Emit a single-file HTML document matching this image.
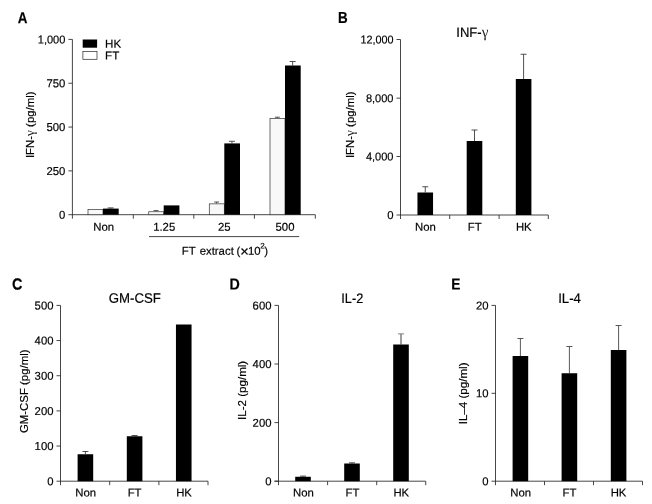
<!DOCTYPE html>
<html lang="en">
<head>
<meta charset="utf-8">
<title>Cytokine production figure</title>
<style>
html,body{margin:0;padding:0;background:#fff;}
svg{display:block;}
text .g{font-family:'Liberation Serif',serif;stroke:none;fill:#222;font-size:116%;}
text{font-family:'Liberation Sans', sans-serif;fill:#000;stroke:#000;stroke-width:0.18px;}
</style>
</head>
<body>
<svg width="652" height="504" viewBox="0 0 652 504">
<rect x="0" y="0" width="652" height="504" fill="#fff"/>
<text transform="translate(17.7 23.2) rotate(0.04) scale(0.84 1)" font-size="16" font-weight="bold">A</text>
<line x1="72.4" y1="39.4" x2="72.4" y2="218.7" stroke="#262626" stroke-width="0.85"/>
<line x1="68.4" y1="214.7" x2="315.3" y2="214.7" stroke="#262626" stroke-width="0.85"/>
<line x1="133.3" y1="214.7" x2="133.3" y2="218.7" stroke="#262626" stroke-width="0.85"/>
<line x1="193.8" y1="214.7" x2="193.8" y2="218.7" stroke="#262626" stroke-width="0.85"/>
<line x1="254.4" y1="214.7" x2="254.4" y2="218.7" stroke="#262626" stroke-width="0.85"/>
<line x1="315.3" y1="214.7" x2="315.3" y2="218.7" stroke="#262626" stroke-width="0.85"/>
<line x1="68.4" y1="39.4" x2="72.4" y2="39.4" stroke="#262626" stroke-width="0.85"/>
<text transform="translate(65.4 43.45) rotate(0.04) scale(0.96 1)" font-size="11.5" text-anchor="end">1,000</text>
<line x1="68.4" y1="83.22" x2="72.4" y2="83.22" stroke="#262626" stroke-width="0.85"/>
<text transform="translate(65.4 87.27) rotate(0.04) scale(0.985 1)" font-size="11.5" text-anchor="end">750</text>
<line x1="68.4" y1="127.05" x2="72.4" y2="127.05" stroke="#262626" stroke-width="0.85"/>
<text transform="translate(65.4 131.1) rotate(0.04) scale(0.985 1)" font-size="11.5" text-anchor="end">500</text>
<line x1="68.4" y1="170.88" x2="72.4" y2="170.88" stroke="#262626" stroke-width="0.85"/>
<text transform="translate(65.4 174.93) rotate(0.04) scale(0.985 1)" font-size="11.5" text-anchor="end">250</text>
<text transform="translate(65.4 218.75) rotate(0.04) scale(0.985 1)" font-size="11.5" text-anchor="end">0</text>
<rect x="82.70" y="39.50" width="14.40" height="8.20" fill="#000"/>
<rect x="82.90" y="51.60" width="14.10" height="7.70" fill="#fff" stroke="#262626" stroke-width="0.7"/>
<text transform="translate(105.1 47.7) rotate(0.04)" font-size="11.6">HK</text>
<text transform="translate(105.1 59.6) rotate(0.04)" font-size="11.6">FT</text>
<line x1="110.65" y1="207.9" x2="110.65" y2="208.6" stroke="#333" stroke-width="0.85"/>
<line x1="107.65" y1="207.9" x2="113.65" y2="207.9" stroke="#333" stroke-width="0.85"/>
<rect x="88.00" y="209.60" width="15.00" height="5.10" fill="#f8f8f8" stroke="#333" stroke-width="0.7"/>
<rect x="103.00" y="208.60" width="15.70" height="6.10" fill="#000"/>
<line x1="156.05" y1="210.6" x2="156.05" y2="211.4" stroke="#333" stroke-width="0.85"/>
<line x1="153.55" y1="210.6" x2="158.55" y2="210.6" stroke="#333" stroke-width="0.85"/>
<rect x="148.70" y="211.75" width="15.00" height="2.95" fill="#f8f8f8" stroke="#333" stroke-width="0.7"/>
<rect x="163.70" y="205.40" width="15.70" height="9.30" fill="#000"/>
<line x1="216.65" y1="202.0" x2="216.65" y2="203.5" stroke="#333" stroke-width="0.85"/>
<line x1="214.15" y1="202.0" x2="219.15" y2="202.0" stroke="#333" stroke-width="0.85"/>
<line x1="231.95" y1="141.3" x2="231.95" y2="143.4" stroke="#333" stroke-width="0.85"/>
<line x1="228.95" y1="141.3" x2="234.95" y2="141.3" stroke="#333" stroke-width="0.85"/>
<rect x="209.30" y="203.85" width="15.00" height="10.85" fill="#f8f8f8" stroke="#333" stroke-width="0.7"/>
<rect x="224.30" y="143.40" width="15.70" height="71.30" fill="#000"/>
<line x1="277.35" y1="117.2" x2="277.35" y2="118" stroke="#333" stroke-width="0.85"/>
<line x1="274.85" y1="117.2" x2="279.85" y2="117.2" stroke="#333" stroke-width="0.85"/>
<line x1="292.65" y1="61.5" x2="292.65" y2="65.5" stroke="#333" stroke-width="0.85"/>
<line x1="289.65" y1="61.5" x2="295.65" y2="61.5" stroke="#333" stroke-width="0.85"/>
<rect x="270.00" y="118.35" width="15.00" height="96.35" fill="#f8f8f8" stroke="#333" stroke-width="0.7"/>
<rect x="285.00" y="65.50" width="15.70" height="149.20" fill="#000"/>
<text transform="translate(103.75 230.7) rotate(0.04)" font-size="11.35" text-anchor="middle">Non</text>
<text transform="translate(164.2 230.7) rotate(0.04)" font-size="11.35" text-anchor="middle">1.25</text>
<text transform="translate(224.3 230.7) rotate(0.04)" font-size="11.35" text-anchor="middle">25</text>
<text transform="translate(285 230.7) rotate(0.04)" font-size="11.35" text-anchor="middle">500</text>
<line x1="149" y1="236.6" x2="299.2" y2="236.6" stroke="#262626" stroke-width="0.85"/>
<text transform="translate(181.7 254.7) rotate(0.04)" font-size="11.4">FT<tspan dx="1.05"> extract</tspan><tspan dx="-0.4"> (</tspan><tspan font-size="14.6" dy="1.5" dx="-0.2">×</tspan><tspan dy="-1.5" dx="-0.7">10</tspan><tspan font-size="8" dy="-6.2" dx="-0.4">2</tspan><tspan dy="6.2" dx="-0.4">)</tspan></text>
<text transform="translate(33.9 124.75) rotate(-90)" font-size="11.4" text-anchor="middle">IFN-<tspan class="g">γ</tspan> (pg/ml)</text>
<text transform="translate(338 23) rotate(0.04) scale(0.84 1)" font-size="16" font-weight="bold">B</text>
<line x1="400.5" y1="39.5" x2="400.5" y2="219.0" stroke="#262626" stroke-width="0.85"/>
<line x1="396.5" y1="215.0" x2="548.3" y2="215.0" stroke="#262626" stroke-width="0.85"/>
<line x1="449.7" y1="215.0" x2="449.7" y2="219.0" stroke="#262626" stroke-width="0.85"/>
<line x1="499.1" y1="215.0" x2="499.1" y2="219.0" stroke="#262626" stroke-width="0.85"/>
<line x1="548.3" y1="215.0" x2="548.3" y2="219.0" stroke="#262626" stroke-width="0.85"/>
<line x1="396.5" y1="39.5" x2="400.5" y2="39.5" stroke="#262626" stroke-width="0.85"/>
<text transform="translate(393.5 43.55) rotate(0.04) scale(0.94 1)" font-size="11.5" text-anchor="end">12,000</text>
<line x1="396.5" y1="98.15" x2="400.5" y2="98.15" stroke="#262626" stroke-width="0.85"/>
<text transform="translate(393.5 102.2) rotate(0.04) scale(0.96 1)" font-size="11.5" text-anchor="end">8,000</text>
<line x1="396.5" y1="156.5" x2="400.5" y2="156.5" stroke="#262626" stroke-width="0.85"/>
<text transform="translate(393.5 160.55) rotate(0.04) scale(0.96 1)" font-size="11.5" text-anchor="end">4,000</text>
<text transform="translate(393.5 219.05) rotate(0.04) scale(0.985 1)" font-size="11.5" text-anchor="end">0</text>
<line x1="425.25" y1="186.75" x2="425.25" y2="192.5" stroke="#333" stroke-width="0.85"/>
<line x1="422.25" y1="186.75" x2="428.25" y2="186.75" stroke="#333" stroke-width="0.85"/>
<rect x="417.45" y="192.50" width="15.60" height="22.50" fill="#000"/>
<line x1="474.5" y1="130" x2="474.5" y2="141" stroke="#333" stroke-width="0.85"/>
<line x1="471.5" y1="130" x2="477.5" y2="130" stroke="#333" stroke-width="0.85"/>
<rect x="466.70" y="141.00" width="15.60" height="74.00" fill="#000"/>
<line x1="523.6" y1="54.25" x2="523.6" y2="79" stroke="#333" stroke-width="0.85"/>
<line x1="520.6" y1="54.25" x2="526.6" y2="54.25" stroke="#333" stroke-width="0.85"/>
<rect x="515.80" y="79.00" width="15.60" height="136.00" fill="#000"/>
<text transform="translate(425.5 230.8) rotate(0.04)" font-size="11.35" text-anchor="middle">Non</text>
<text transform="translate(474.75 230.8) rotate(0.04)" font-size="11.35" text-anchor="middle">FT</text>
<text transform="translate(523.75 230.8) rotate(0.04)" font-size="11.35" text-anchor="middle">HK</text>
<text transform="translate(456.3 37.1) rotate(0.04) scale(0.96 1)" font-size="13.6">INF-<tspan class="g">γ</tspan></text>
<text transform="translate(354.3 124.75) rotate(-90)" font-size="11.4" text-anchor="middle">IFN-<tspan class="g">γ</tspan> (pg/ml)</text>
<text transform="translate(12.0 289.45) rotate(0.04) scale(0.9 1)" font-size="16" font-weight="bold">C</text>
<line x1="60.5" y1="305.4" x2="60.5" y2="485.2" stroke="#262626" stroke-width="0.85"/>
<line x1="56.5" y1="481.2" x2="208" y2="481.2" stroke="#262626" stroke-width="0.85"/>
<line x1="109.7" y1="481.2" x2="109.7" y2="485.2" stroke="#262626" stroke-width="0.85"/>
<line x1="158.9" y1="481.2" x2="158.9" y2="485.2" stroke="#262626" stroke-width="0.85"/>
<line x1="208" y1="481.2" x2="208" y2="485.2" stroke="#262626" stroke-width="0.85"/>
<line x1="56.5" y1="305.4" x2="60.5" y2="305.4" stroke="#262626" stroke-width="0.85"/>
<text transform="translate(53.5 309.45) rotate(0.04) scale(0.985 1)" font-size="11.5" text-anchor="end">500</text>
<line x1="56.5" y1="340.56" x2="60.5" y2="340.56" stroke="#262626" stroke-width="0.85"/>
<text transform="translate(53.5 344.61) rotate(0.04) scale(0.985 1)" font-size="11.5" text-anchor="end">400</text>
<line x1="56.5" y1="375.72" x2="60.5" y2="375.72" stroke="#262626" stroke-width="0.85"/>
<text transform="translate(53.5 379.77) rotate(0.04) scale(0.985 1)" font-size="11.5" text-anchor="end">300</text>
<line x1="56.5" y1="410.88" x2="60.5" y2="410.88" stroke="#262626" stroke-width="0.85"/>
<text transform="translate(53.5 414.93) rotate(0.04) scale(0.985 1)" font-size="11.5" text-anchor="end">200</text>
<line x1="56.5" y1="446.04" x2="60.5" y2="446.04" stroke="#262626" stroke-width="0.85"/>
<text transform="translate(53.5 450.09) rotate(0.04) scale(0.985 1)" font-size="11.5" text-anchor="end">100</text>
<text transform="translate(53.5 485.25) rotate(0.04) scale(0.985 1)" font-size="11.5" text-anchor="end">0</text>
<line x1="85.4" y1="451.5" x2="85.4" y2="454.25" stroke="#333" stroke-width="0.85"/>
<line x1="82.4" y1="451.5" x2="88.4" y2="451.5" stroke="#333" stroke-width="0.85"/>
<rect x="77.60" y="454.25" width="15.60" height="26.95" fill="#000"/>
<line x1="134.6" y1="435.5" x2="134.6" y2="436.25" stroke="#333" stroke-width="0.85"/>
<line x1="131.6" y1="435.5" x2="137.6" y2="435.5" stroke="#333" stroke-width="0.85"/>
<rect x="126.80" y="436.25" width="15.60" height="44.95" fill="#000"/>
<rect x="175.95" y="324.50" width="15.60" height="156.70" fill="#000"/>
<text transform="translate(85.6 496.6) rotate(0.04)" font-size="11.35" text-anchor="middle">Non</text>
<text transform="translate(134.6 496.6) rotate(0.04)" font-size="11.35" text-anchor="middle">FT</text>
<text transform="translate(184 496.6) rotate(0.04)" font-size="11.35" text-anchor="middle">HK</text>
<text transform="translate(108.7 302.75) rotate(0.04) scale(0.965 1)" font-size="13.7">GM-CSF</text>
<text transform="translate(28 391.3) rotate(-90)" font-size="11.4" text-anchor="middle">GM-CSF (pg/ml)</text>
<text transform="translate(229.6 289.45) rotate(0.04) scale(0.89 1)" font-size="16" font-weight="bold">D</text>
<line x1="278.5" y1="305.4" x2="278.5" y2="485.2" stroke="#262626" stroke-width="0.85"/>
<line x1="274.5" y1="481.2" x2="425.75" y2="481.2" stroke="#262626" stroke-width="0.85"/>
<line x1="327.6" y1="481.2" x2="327.6" y2="485.2" stroke="#262626" stroke-width="0.85"/>
<line x1="376.7" y1="481.2" x2="376.7" y2="485.2" stroke="#262626" stroke-width="0.85"/>
<line x1="425.75" y1="481.2" x2="425.75" y2="485.2" stroke="#262626" stroke-width="0.85"/>
<line x1="274.5" y1="305.4" x2="278.5" y2="305.4" stroke="#262626" stroke-width="0.85"/>
<text transform="translate(271.5 309.45) rotate(0.04) scale(0.985 1)" font-size="11.5" text-anchor="end">600</text>
<line x1="274.5" y1="364.0" x2="278.5" y2="364.0" stroke="#262626" stroke-width="0.85"/>
<text transform="translate(271.5 368.05) rotate(0.04) scale(0.985 1)" font-size="11.5" text-anchor="end">400</text>
<line x1="274.5" y1="422.6" x2="278.5" y2="422.6" stroke="#262626" stroke-width="0.85"/>
<text transform="translate(271.5 426.65) rotate(0.04) scale(0.985 1)" font-size="11.5" text-anchor="end">200</text>
<line x1="274.5" y1="481.2" x2="278.5" y2="481.2" stroke="#262626" stroke-width="0.85"/>
<text transform="translate(271.5 485.25) rotate(0.04) scale(0.985 1)" font-size="11.5" text-anchor="end">0</text>
<line x1="303" y1="476.1" x2="303" y2="476.75" stroke="#333" stroke-width="0.85"/>
<line x1="300.0" y1="476.1" x2="306.0" y2="476.1" stroke="#333" stroke-width="0.85"/>
<rect x="295.20" y="476.75" width="15.60" height="4.45" fill="#000"/>
<line x1="352" y1="462.8" x2="352" y2="463.5" stroke="#333" stroke-width="0.85"/>
<line x1="349.0" y1="462.8" x2="355.0" y2="462.8" stroke="#333" stroke-width="0.85"/>
<rect x="344.20" y="463.50" width="15.60" height="17.70" fill="#000"/>
<line x1="401" y1="333.9" x2="401" y2="344.5" stroke="#6a6a6a" stroke-width="1.3"/>
<line x1="398.0" y1="333.9" x2="404.0" y2="333.9" stroke="#6a6a6a" stroke-width="0.85"/>
<rect x="393.20" y="344.50" width="15.60" height="136.70" fill="#000"/>
<text transform="translate(303.5 496.6) rotate(0.04)" font-size="11.35" text-anchor="middle">Non</text>
<text transform="translate(352.5 496.6) rotate(0.04)" font-size="11.35" text-anchor="middle">FT</text>
<text transform="translate(401.25 496.6) rotate(0.04)" font-size="11.35" text-anchor="middle">HK</text>
<text transform="translate(341.35 302.9) rotate(0.04) scale(0.925 1)" font-size="13.7">IL-2</text>
<text transform="translate(246.3 390.4) rotate(-90)" font-size="11.6" text-anchor="middle">IL-2 (pg/ml)</text>
<text transform="translate(451.3 289.4) rotate(0.04) scale(0.86 1)" font-size="16" font-weight="bold">E</text>
<line x1="495.5" y1="305.4" x2="495.5" y2="485.2" stroke="#262626" stroke-width="0.85"/>
<line x1="491.5" y1="481.2" x2="642.5" y2="481.2" stroke="#262626" stroke-width="0.85"/>
<line x1="544.5" y1="481.2" x2="544.5" y2="485.2" stroke="#262626" stroke-width="0.85"/>
<line x1="593.5" y1="481.2" x2="593.5" y2="485.2" stroke="#262626" stroke-width="0.85"/>
<line x1="642.5" y1="481.2" x2="642.5" y2="485.2" stroke="#262626" stroke-width="0.85"/>
<line x1="491.5" y1="305.4" x2="495.5" y2="305.4" stroke="#262626" stroke-width="0.85"/>
<text transform="translate(488.5 309.45) rotate(0.04) scale(0.985 1)" font-size="11.5" text-anchor="end">20</text>
<line x1="491.5" y1="393.3" x2="495.5" y2="393.3" stroke="#262626" stroke-width="0.85"/>
<text transform="translate(488.5 397.35) rotate(0.04) scale(0.985 1)" font-size="11.5" text-anchor="end">10</text>
<text transform="translate(488.5 485.25) rotate(0.04) scale(0.985 1)" font-size="11.5" text-anchor="end">0</text>
<line x1="520.4" y1="338.5" x2="520.4" y2="356" stroke="#3c3c3c" stroke-width="0.85"/>
<line x1="517.4" y1="338.5" x2="523.4" y2="338.5" stroke="#3c3c3c" stroke-width="0.85"/>
<rect x="512.60" y="356.00" width="15.60" height="125.20" fill="#000"/>
<line x1="569.4" y1="346.5" x2="569.4" y2="373.25" stroke="#3c3c3c" stroke-width="0.85"/>
<line x1="566.4" y1="346.5" x2="572.4" y2="346.5" stroke="#3c3c3c" stroke-width="0.85"/>
<rect x="561.60" y="373.25" width="15.60" height="107.95" fill="#000"/>
<line x1="618.6" y1="325.5" x2="618.6" y2="350" stroke="#3c3c3c" stroke-width="0.85"/>
<line x1="615.6" y1="325.5" x2="621.6" y2="325.5" stroke="#3c3c3c" stroke-width="0.85"/>
<rect x="610.80" y="350.00" width="15.60" height="131.20" fill="#000"/>
<text transform="translate(520.75 496.6) rotate(0.04)" font-size="11.35" text-anchor="middle">Non</text>
<text transform="translate(569.5 496.6) rotate(0.04)" font-size="11.35" text-anchor="middle">FT</text>
<text transform="translate(618.5 496.6) rotate(0.04)" font-size="11.35" text-anchor="middle">HK</text>
<text transform="translate(558.2 302.9) rotate(0.04) scale(0.965 1)" font-size="13.7">IL-4</text>
<text transform="translate(467.1 393.4) rotate(-90)" font-size="11.6" text-anchor="middle">IL–4 (pg/ml)</text>
</svg>
</body>
</html>
